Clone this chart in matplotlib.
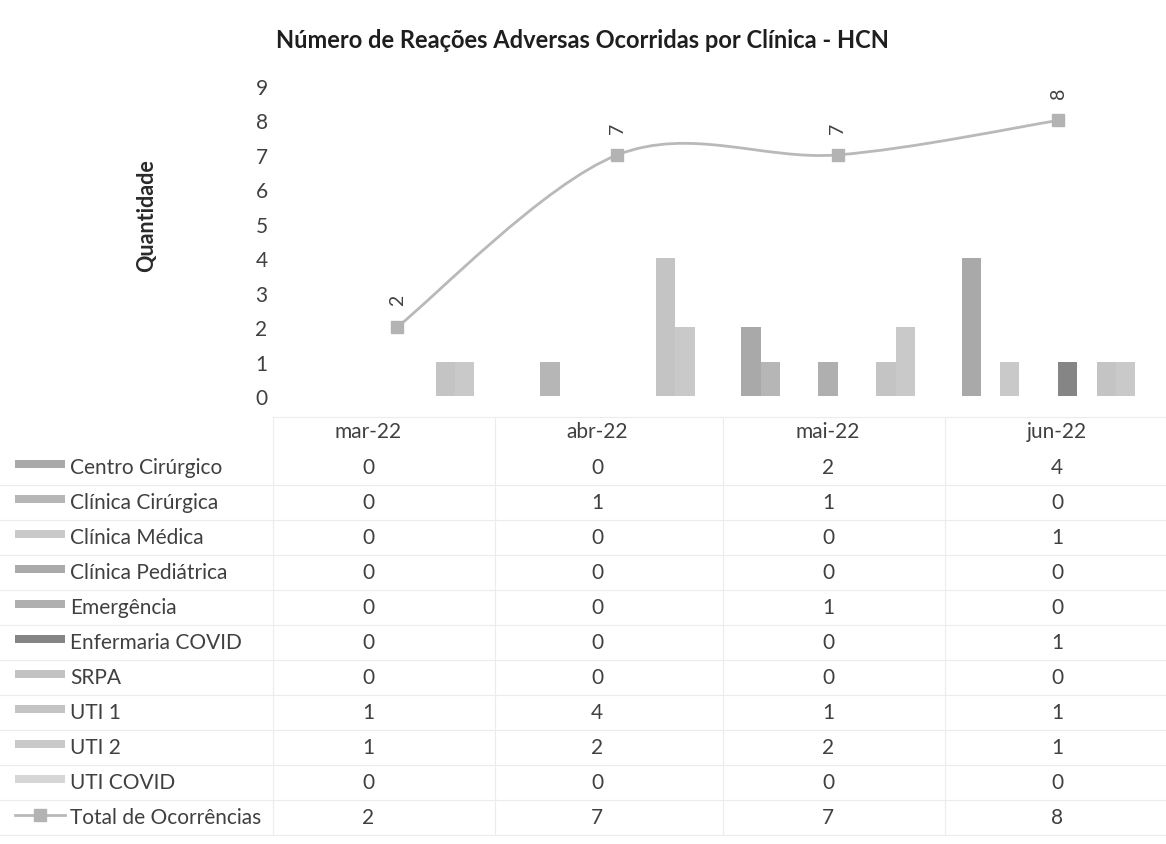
import numpy as np
import matplotlib
matplotlib.use("Agg")
import matplotlib.pyplot as plt
from matplotlib.path import Path
from matplotlib.patches import PathPatch, Rectangle
from matplotlib.lines import Line2D

# ---------------- data ----------------
months = ["mar-22", "abr-22", "mai-22", "jun-22"]
series_names = ["Centro Cirúrgico", "Clínica Cirúrgica", "Clínica Médica",
                "Clínica Pediátrica", "Emergência", "Enfermaria COVID",
                "SRPA", "UTI 1", "UTI 2", "UTI COVID"]
centro_cirurgico = [0, 0, 2, 4]
clinica_cirurgica = [0, 1, 1, 0]
clinica_medica = [0, 0, 0, 1]
clinica_pediatrica = [0, 0, 0, 0]
emergencia = [0, 0, 1, 0]
enfermaria_covid = [0, 0, 0, 1]
srpa = [0, 0, 0, 0]
uti_1 = [1, 4, 1, 1]
uti_2 = [1, 2, 2, 1]
uti_covid = [0, 0, 0, 0]
total_name = "Total de Ocorrências"
total = [2, 7, 7, 8]
yticks = list(range(0, 10))

series_values = [centro_cirurgico, clinica_cirurgica, clinica_medica,
                 clinica_pediatrica, emergencia, enfermaria_covid, srpa,
                 uti_1, uti_2, uti_covid]
colors = ["#a9a9a9", "#b6b6b6", "#c9c9c9", "#aaaaaa", "#afafaf",
          "#858585", "#c2c2c2", "#c4c4c4", "#c9c9c9", "#d6d6d6"]
line_color = "#b9b9b9"
marker_color = "#b3b3b3"
text_color = "#404040"

plt.rcParams["font.family"] = ["Lato", "DejaVu Sans"]

W, H = 1166, 845
fig = plt.figure(figsize=(W / 100, H / 100), dpi=100)


def fx(x):
    return x / W


def fy(y):
    return 1 - y / H


# ---------------- plot area ----------------
left, right, top, bottom = 287, 1166, 87, 397
ax = fig.add_axes([fx(left), fy(bottom), (right - left) / W, (bottom - top) / H])
cat_px = 220.3
ax.set_xlim(-0.5, -0.5 + (right - left) / cat_px)
ax.set_ylim(0, 9)
for s in ax.spines.values():
    s.set_visible(False)
ax.set_xticks([])
ax.set_yticks(yticks)
ax.tick_params(axis="y", length=0, pad=14, labelsize=15, labelcolor=text_color)
ax.patch.set_alpha(0)

x = np.arange(len(months))
n = len(series_names)
bw = 19.3 / cat_px
for i, (vals, col) in enumerate(zip(series_values, colors)):
    ax.bar(x + (i - (n - 1) / 2) * bw, vals, width=bw, color=col,
           edgecolor="none", zorder=2)

# smoothed line (Excel style bezier through data points)
pts = np.column_stack([x, total]).astype(float)
verts = [tuple(pts[0])]
codes = [Path.MOVETO]
k = 1 / 6
for i in range(len(pts) - 1):
    p_prev = pts[i - 1] if i > 0 else pts[i]
    p_next2 = pts[i + 2] if i + 2 < len(pts) else pts[i + 1]
    c1 = pts[i] + (pts[i + 1] - p_prev) * k
    c2 = pts[i + 1] - (p_next2 - pts[i]) * k
    verts += [tuple(c1), tuple(c2), tuple(pts[i + 1])]
    codes += [Path.CURVE4] * 3
ax.add_patch(PathPatch(Path(verts, codes), fill=False, edgecolor=line_color,
                       lw=2.0, zorder=3))
ax.plot(x, total, ls="none", marker="s", ms=8.5, mfc=marker_color,
        mec=marker_color, zorder=4)
for xi, v in zip(x, total):
    ax.annotate(str(v), (xi, v), xytext=(0, 22), textcoords="offset pixels",
                rotation=90, ha="center", va="bottom", fontsize=14,
                color=text_color)

# ---------------- titles ----------------
fig.text(fx(582), fy(40), "Número de Reações Adversas Ocorridas por Clínica - HCN",
         ha="center", va="center", fontsize=17, fontweight="bold",
         color="#1e1e1e")
fig.text(fx(147), fy(216), "Quantidade", rotation=90, ha="center",
         va="center", fontsize=15.5, fontweight="bold", color="#2a2a2a")

# ---------------- data table ----------------
grid_c = "#ececec"
col_x = [368, 597, 828, 1057]
header_y = 432
row_y = [468 + 35 * i for i in range(n + 1)]
col_edges = [273, 495, 723, 945]
hlines = [418] + [r + 17.5 for r in row_y[:-1]] + [836]
for yy in hlines:
    x0 = 273 if yy == 418 else 0
    fig.add_artist(Line2D([fx(x0), fx(W)], [fy(yy), fy(yy)],
                          transform=fig.transFigure, color=grid_c, lw=0.8))
for xx in col_edges:
    fig.add_artist(Line2D([fx(xx), fx(xx)], [fy(418), fy(836)],
                          transform=fig.transFigure, color=grid_c, lw=0.8))

fs = 15
for cx, m in zip(col_x, months):
    fig.text(fx(cx), fy(header_y), m, ha="center", va="center",
             fontsize=fs, color=text_color)

for r, (name, vals, col) in enumerate(zip(series_names, series_values, colors)):
    yy = row_y[r]
    fig.add_artist(Rectangle((fx(15), fy(yy + 1)), 50 / W, 8 / H,
                             transform=fig.transFigure, facecolor=col,
                             edgecolor="none"))
    fig.text(fx(70), fy(yy), name, ha="left", va="center", fontsize=fs,
             color=text_color)
    for cx, v in zip(col_x, vals):
        fig.text(fx(cx), fy(yy), str(v), ha="center", va="center",
                 fontsize=fs, color=text_color)

yy = row_y[-1]
fig.add_artist(Line2D([fx(15), fx(65)], [fy(yy - 2), fy(yy - 2)],
                      transform=fig.transFigure, color=line_color, lw=2.0))
fig.add_artist(Line2D([fx(40)], [fy(yy - 2)], transform=fig.transFigure,
                      ls="none", marker="s", ms=8, mfc=marker_color,
                      mec=marker_color))
fig.text(fx(70), fy(yy), total_name, ha="left", va="center", fontsize=fs,
         color=text_color)
for cx, v in zip(col_x, total):
    fig.text(fx(cx), fy(yy), str(v), ha="center", va="center",
             fontsize=fs, color=text_color)

fig.savefig("out.png", dpi=100, facecolor="white")
